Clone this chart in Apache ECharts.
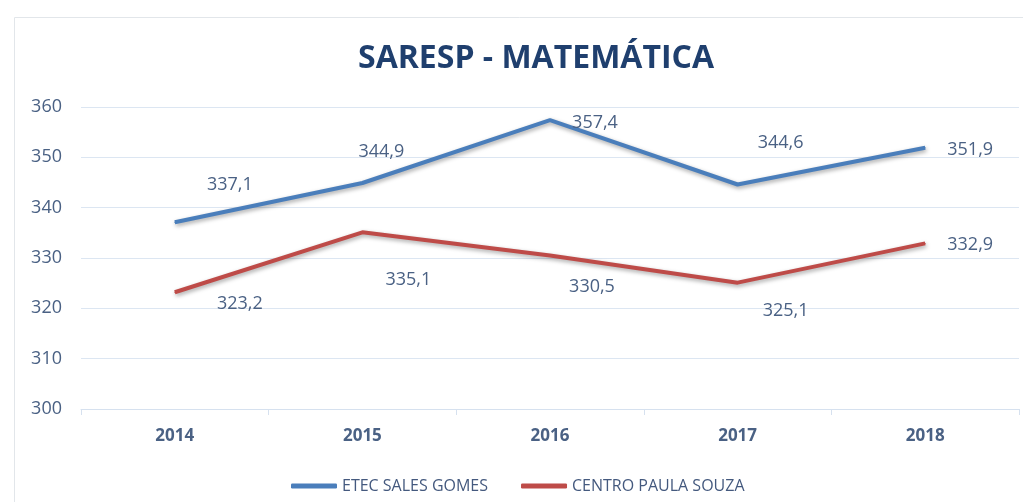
<!DOCTYPE html>
<html>
<head>
<meta charset="utf-8">
<script src="https://cdn.jsdelivr.net/npm/echarts@6/dist/echarts.min.js"></script>
<style>
  html, body { margin: 0; padding: 0; background: #fff; }
  #chart { width: 1023px; height: 502px; }
</style>
</head>
<body>
<div id="chart"></div>
<script>
// dados do gráfico
var anos = ['2014', '2015', '2016', '2017', '2018']
var etecSalesGomes = [337.1, 344.9, 357.4, 344.6, 351.9]
var centroPaulaSouza = [323.2, 335.1, 330.5, 325.1, 332.9]
var yTicks = [300, 310, 320, 330, 340, 350, 360]

// deslocamento dos rótulos (estilo, como no Excel)
var offsetEtec = [[55, -37], [19, -31], [45, 3], [43, -42], [45, 2]]
var offsetCentro = [[65, 12], [46, 48], [42, 31], [48, 28], [45, 1]]

var corTexto = '#4a6184'

function fmt (v) {
  return v.toFixed(1).replace('.', ',')
}

function pontos (valores, offsets) {
  return valores.map(function (v, i) {
    return { value: v, label: { offset: offsets[i] } }
  })
}

function serie (nome, valores, offsets, cor) {
  return {
    name: nome,
    type: 'line',
    data: pontos(valores, offsets),
    symbol: 'circle',
    symbolSize: 1,
    showSymbol: true,
    color: cor,
    itemStyle: { color: cor },
    lineStyle: {
      width: 4,
      color: cor,
      shadowColor: 'rgba(0,0,0,0.35)',
      shadowBlur: 4,
      shadowOffsetX: 1,
      shadowOffsetY: 2
    },
    label: {
      show: true,
      position: 'inside',
      formatter: function (p) { return fmt(p.value) },
      fontFamily: 'Open Sans',
      fontSize: 18,
      color: corTexto
    }
  }
}

var chart = echarts.init(document.getElementById('chart'))
chart.setOption({
  backgroundColor: '#fff',
  animation: false,
  textStyle: { fontFamily: 'Open Sans' },
  title: {
    text: 'SARESP - MATEMÁTICA',
    left: 531,
    top: 38,
    textAlign: 'center',
    textStyle: {
      fontFamily: 'Open Sans',
      fontWeight: 'bold',
      fontSize: 32,
      color: '#1f3f6e'
    }
  },
  graphic: [
    {
      type: 'rect',
      shape: { x: 14.5, y: 17.5, width: 1020, height: 500 },
      style: { fill: 'none', stroke: '#e2e6ea', lineWidth: 1 },
      silent: true
    }
  ],
  grid: {
    left: 81,
    right: 4,
    top: 107,
    bottom: 93
  },
  legend: {
    left: 286,
    top: 473,
    icon: 'roundRect',
    itemWidth: 46,
    itemHeight: 5,
    itemGap: 33,
    textStyle: {
      fontFamily: 'Open Sans',
      fontSize: 16,
      color: '#44597e'
    },
    data: ['ETEC SALES GOMES', 'CENTRO PAULA SOUZA']
  },
  xAxis: {
    type: 'category',
    data: anos,
    boundaryGap: true,
    axisLine: { lineStyle: { color: '#d6e1ef', width: 1 } },
    axisTick: { show: true, length: 6, lineStyle: { color: '#d6e1ef' } },
    axisLabel: {
      margin: 19,
      fontFamily: 'Open Sans',
      fontWeight: 'bold',
      fontSize: 17,
      color: corTexto
    }
  },
  yAxis: {
    type: 'value',
    min: yTicks[0],
    max: yTicks[yTicks.length - 1],
    interval: 10,
    axisLine: { show: false },
    axisTick: { show: false },
    splitLine: { lineStyle: { color: '#dce6f2', width: 1 } },
    axisLabel: {
      margin: 19,
      fontFamily: 'Open Sans',
      fontSize: 18,
      color: corTexto
    }
  },
  series: [
    serie('ETEC SALES GOMES', etecSalesGomes, offsetEtec, '#4a7ebb'),
    serie('CENTRO PAULA SOUZA', centroPaulaSouza, offsetCentro, '#be4b48')
  ]
})
</script>
</body>
</html>
